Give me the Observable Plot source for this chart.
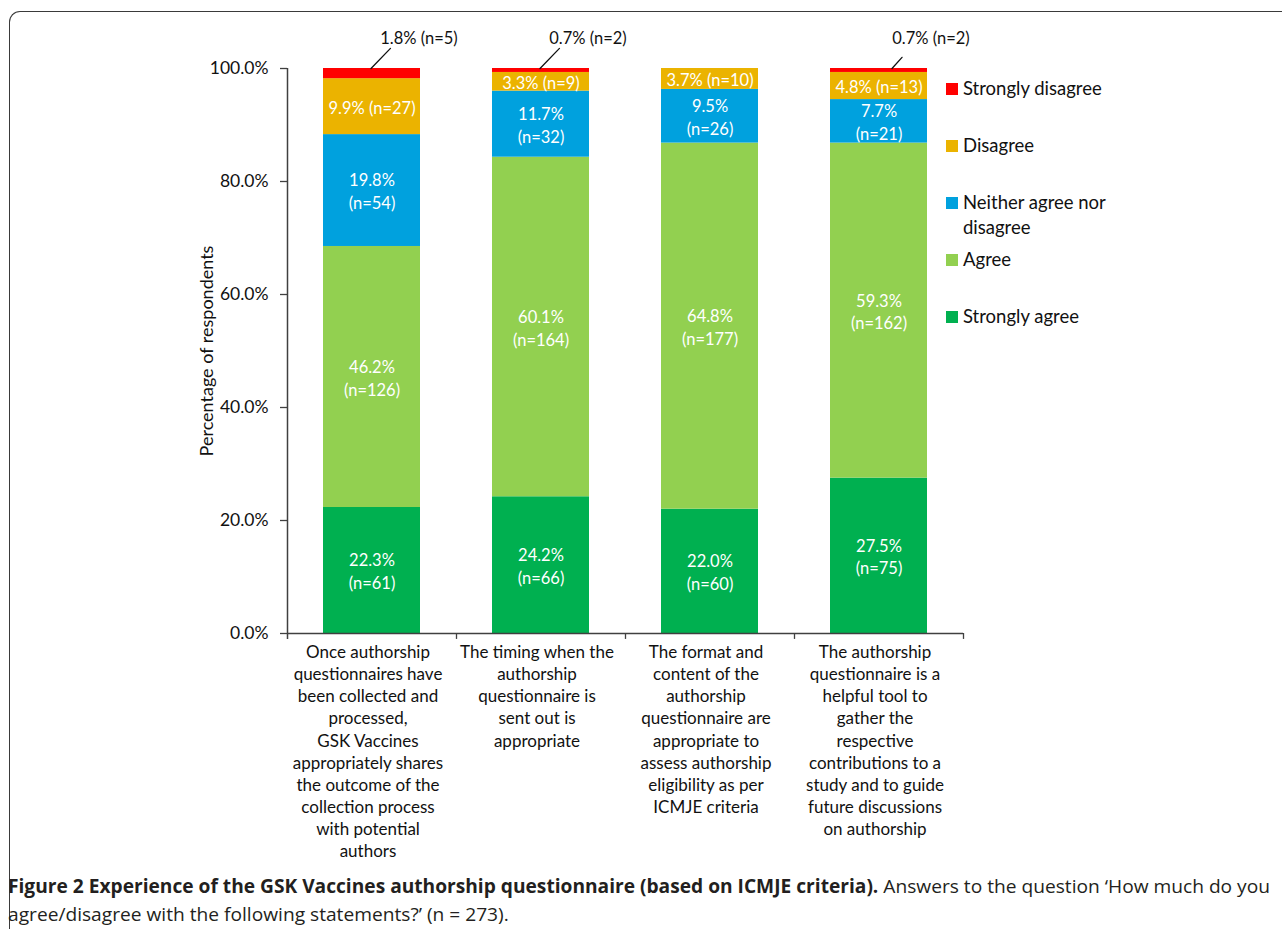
<!DOCTYPE html>
<html>
<head>
<meta charset="utf-8">
<script src="https://cdn.jsdelivr.net/npm/d3@7"></script>
<script src="https://cdn.jsdelivr.net/npm/@observablehq/plot@0.6"></script>
<style>
  html, body { margin: 0; padding: 0; background: #fff; width: 1282px; height: 929px; overflow: hidden; }
  #frame { position: absolute; left: 9px; top: 11px; width: 1320px; height: 1000px;
           border-left: 1.6px solid #3a3a3a; border-top: 1.6px solid #3a3a3a; border-top-left-radius: 11px; }
  #chart { position: absolute; left: 0; top: 0; }
  #legend { position: absolute; left: 0; top: 0; font-family: Lato, "Open Sans", sans-serif; font-size: 18.5px; color: #111; }
  .item { position: absolute; left: 946px; white-space: nowrap; line-height: 25px; }
  .sw { position: absolute; left: 0; top: 7px; width: 12px; height: 12px; }
  .lab { position: absolute; left: 17px; top: 0; }
  #caption { position: absolute; left: 8px; top: 872px; font-family: "Open Sans", sans-serif;
             font-size: 19px; color: #231f20; line-height: 28px; white-space: nowrap; }
  #caption b { font-weight: 700; }
  #caption span.line { display: inline-block; transform-origin: 0 0; }
</style>
</head>
<body>
<div id="frame"></div>
<div id="chart"></div>
<div id="legend"></div>
<div id="caption"><span class="line" id="cap1"><b>Figure 2 Experience of the GSK Vaccines authorship questionnaire (based on ICMJE criteria).</b> Answers to the question ‘How much do you</span><br><span class="line" id="cap2">agree/disagree with the following statements?’ (n = 273).</span></div>
<script>
// ---------- data ----------
const categories = [
  "Once authorship\nquestionnaires have\nbeen collected and\nprocessed,\nGSK Vaccines\nappropriately shares\nthe outcome of the\ncollection process\nwith potential\nauthors",
  "The timing when the\nauthorship\nquestionnaire is\nsent out is\nappropriate",
  "The format and\ncontent of the\nauthorship\nquestionnaire are\nappropriate to\nassess authorship\neligibility as per\nICMJE criteria",
  "The authorship\nquestionnaire is a\nhelpful tool to\ngather the\nrespective\ncontributions to a\nstudy and to guide\nfuture discussions\non authorship"
];
const levels = ["Strongly agree", "Agree", "Neither agree nor disagree", "Disagree", "Strongly disagree"];
const legendLabels = ["Strongly agree", "Agree", "Neither agree nor\ndisagree", "Disagree", "Strongly disagree"];
const levelColors = ["#00b050", "#92d050", "#00a1de", "#ebb300", "#ff0000"];

const stronglyAgree     = [22.3, 24.2, 22.0, 27.5];
const stronglyAgreeN    = [61, 66, 60, 75];
const agree             = [46.2, 60.1, 64.8, 59.3];
const agreeN            = [126, 164, 177, 162];
const neither           = [19.8, 11.7, 9.5, 7.7];
const neitherN          = [54, 32, 26, 21];
const disagree          = [9.9, 3.3, 3.7, 4.8];
const disagreeN         = [27, 9, 10, 13];
const stronglyDisagree  = [1.8, 0.7, 0.0, 0.7];
const stronglyDisagreeN = [5, 2, 0, 2];

const yTicks = [0, 20, 40, 60, 80, 100];
const yLabel = "Percentage of respondents";

// ---------- build table ----------
const seriesValues = [stronglyAgree, agree, neither, disagree, stronglyDisagree];
const seriesCounts = [stronglyAgreeN, agreeN, neitherN, disagreeN, stronglyDisagreeN];
const rows = [];
categories.forEach((cat, ci) => {
  levels.forEach((lev, li) => {
    const v = seriesValues[li][ci], n = seriesCounts[li][ci];
    const oneLine = li >= 3;
    rows.push({
      cat, ci, level: lev, li, value: v, n,
      label: oneLine ? `${v.toFixed(1)}% (n=${n})` : `${v.toFixed(1)}%\n(n=${n})`
    });
  });
});

const axisColor = "#404040";
const leaderShape = { draw(context, l) { context.moveTo(0, 0); context.lineTo(0, -l); } };

const W = 1282, H = 870, mTop = 68, mBottom = H - 633, mLeft = 287, mRight = W - 963;
const step = (W - mLeft - mRight) / categories.length;

const chart = Plot.plot({
  width: W, height: H,
  marginTop: mTop, marginBottom: mBottom, marginLeft: mLeft, marginRight: mRight,
  style: { fontFamily: "Lato, 'Open Sans', sans-serif", fontSize: "16px", color: "#111", background: "transparent" },
  x: { domain: categories, paddingInner: 0.426, paddingOuter: 0.213, axis: null },
  y: { domain: [0, 100], axis: null },
  color: { domain: levels, range: levelColors },
  marks: [
    Plot.barY(rows, { x: "cat", y: "value", fill: "level" }),
    // labels inside segments
    Plot.text(rows, Plot.stackY({
      x: "cat", y: "value", z: "level", text: "label",
      filter: d => d.li < 4, fill: "white", fontSize: 16.5, lineHeight: 1.38
    })),
    // outside labels for "Strongly disagree"
    Plot.text(rows.filter(d => d.li === 4 && d.value > 0 && d.ci < 3), {
      x: "cat", y: () => 100, text: "label", dx: 47, dy: -30, fill: "#111", fontSize: 16.5
    }),
    Plot.text(rows.filter(d => d.li === 4 && d.value > 0 && d.ci === 3), {
      x: "cat", y: () => 100, text: "label", dx: 52, dy: -30, fill: "#111", fontSize: 16.5
    }),
    Plot.vector(rows.filter(d => d.li === 4 && d.value > 0 && d.ci < 3), {
      x: "cat", y: () => 100, dx: -1, length: 28, rotate: 44, anchor: "start",
      shape: leaderShape, stroke: "#111", strokeWidth: 1.3
    }),
    Plot.vector(rows.filter(d => d.li === 4 && d.value > 0 && d.ci === 3), {
      x: "cat", y: () => 100, dx: 13, length: 15, rotate: 42, anchor: "start",
      shape: leaderShape, stroke: "#111", strokeWidth: 1.3
    }),
    // y axis
    Plot.axisY({ ticks: yTicks, tickFormat: d => d.toFixed(1) + "%", tickSize: 7, tickPadding: 12,
                 fontSize: 17.5, label: null, stroke: axisColor, strokeWidth: 1.3, color: "#111" }),
    Plot.ruleX(categories.slice(0, 1), { x: d => d, dx: -step / 2, y1: -1.05, y2: 100, stroke: axisColor, strokeWidth: 1.5 }),
    // x axis line and boundary ticks
    Plot.ruleY([0], { stroke: axisColor, strokeWidth: 1.5 }),
    Plot.ruleX(categories.slice(1), { x: d => d, dx: -step / 2, y1: -1.05, y2: 0, stroke: axisColor, strokeWidth: 1.3 }),
    Plot.ruleX(categories.slice(-1), { x: d => d, dx: step / 2, y1: -1.05, y2: 0, stroke: axisColor, strokeWidth: 1.3 }),
    // x category labels
    Plot.text(categories, { x: d => d, frameAnchor: "bottom", lineAnchor: "top", dy: 9, dx: -4, text: d => d,
                            lineHeight: 1.3, fontSize: 17, fill: "#111" }),
    // y axis title
    Plot.text([yLabel], { frameAnchor: "left", dx: -80, rotate: -90, textAnchor: "middle",
                          text: d => d, fontSize: 18, fill: "#111" })
  ]
});
document.getElementById("chart").appendChild(chart);

// ---------- legend (top item = last stacked level) ----------
const legend = document.getElementById("legend");
const order = levels.map((_, i) => i).reverse();
order.forEach((li, k) => {
  const it = document.createElement("div");
  it.className = "item";
  it.style.top = (88 + k * 57 - 12.5) + "px";
  it.innerHTML = `<div class="sw" style="background:${levelColors[li]}"></div><div class="lab">${legendLabels[li].replace("\n", "<br>")}</div>`;
  legend.appendChild(it);
});

// ---------- caption fit ----------
const c1 = document.getElementById("cap1"), c2 = document.getElementById("cap2");
const s = 1262 / c1.getBoundingClientRect().width;
c1.style.transform = `scaleX(${s})`;
c2.style.transform = `scaleX(${s})`;
</script>
</body>
</html>
